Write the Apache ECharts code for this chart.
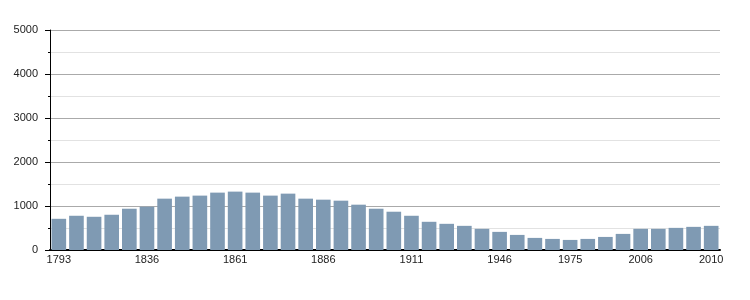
<!DOCTYPE html>
<html>
<head>
<meta charset="utf-8">
<script src="https://cdn.jsdelivr.net/npm/echarts@6/dist/echarts.min.js"></script>
<style>html,body{margin:0;padding:0;background:#fff}#c{width:750px;height:300px}</style>
</head>
<body>
<div id="c"></div>
<script>
const years = ['1793','1800','1806','1821','1831','1836','1841','1846','1851','1856','1861','1866','1872','1876','1881','1886','1891','1896','1901','1906','1911','1921','1926','1931','1936','1946','1954','1962','1968','1975','1982','1990','1999','2006','2007','2008','2009','2010'];
const population = [709,778,755,801,938,984,1167,1213,1236,1304,1327,1304,1236,1281,1167,1144,1121,1030,938,870,778,641,595,549,481,412,343,275,252,229,252,297,366,481,481,503,526,549];
const shownLabels = ['1793','1836','1861','1886','1911','1946','1975','2006','2010'];
const yTicks = [0,1000,2000,3000,4000,5000];

const chart = echarts.init(document.getElementById('c'), null, {renderer:'canvas'});
chart.setOption({
  animation:false,
  grid:{left:50,right:30,top:30,bottom:50,containLabel:false},
  xAxis:{
    type:'category',
    data:years,
    axisLine:{show:true,lineStyle:{color:'#000',width:2}},
    axisTick:{show:false},
    axisLabel:{
      interval:function(i,v){return shownLabels.indexOf(v)>=0;},
      hideOverlap:false,
      color:'#222',fontFamily:'Liberation Sans, Arial, sans-serif',fontSize:11,margin:4
    },
    splitLine:{show:false}
  },
  yAxis:{
    type:'value',min:yTicks[0],max:yTicks[yTicks.length-1],interval:1000,
    axisLine:{show:true,lineStyle:{color:'#000',width:1}},
    axisTick:{show:true,length:5,lineStyle:{color:'#000'}},
    minorTick:{show:true,splitNumber:2,length:2,lineStyle:{color:'#000'}},
    axisLabel:{color:'#222',fontFamily:'Liberation Sans, Arial, sans-serif',fontSize:11,margin:12,
      formatter:function(v){return String(v);}},
    splitLine:{show:true,lineStyle:{color:'#aaaaaa',width:1}},
    minorSplitLine:{show:true,lineStyle:{color:'#e2e2e2',width:1}}
  },
  series:[{
    type:'bar',
    data:population,
    barCategoryGap:'17%',
    itemStyle:{color:'#7f9ab3'}
  }]
});
</script>
</body>
</html>
